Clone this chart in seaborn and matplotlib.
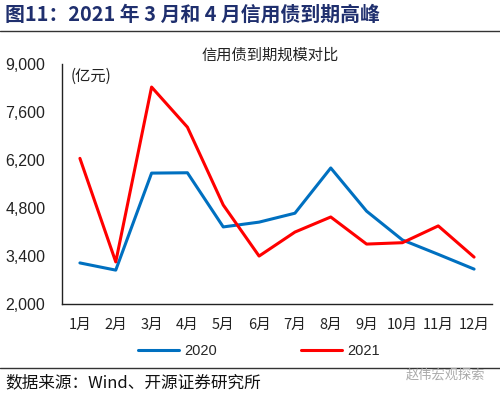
import matplotlib
matplotlib.use("Agg")
import matplotlib.pyplot as plt
import seaborn as sns
import pandas as pd

# Data (亿元)
months = ["1月", "2月", "3月", "4月", "5月", "6月", "7月", "8月", "9月", "10月", "11月", "12月"]
vals_2020 = [3200, 2990, 5820, 5830, 4250, 4390, 4650, 5970, 4710, 3870, 3450, 3020]
vals_2021 = [6250, 3230, 8330, 7160, 4890, 3400, 4100, 4540, 3750, 3790, 4280, 3370]
series_names = ["2020", "2021"]
yticks = [2000, 3400, 4800, 6200, 7600, 9000]

df = pd.DataFrame({
    "month": months * 2,
    "pos": list(range(len(months))) * 2,
    "value": vals_2020 + vals_2021,
    "year": [series_names[0]] * len(months) + [series_names[1]] * len(months),
})

sns.set_style("white")
plt.rcParams["font.family"] = ["Noto Sans CJK SC", "DejaVu Sans"]

fig = plt.figure(figsize=(5, 3.98), dpi=100)
ax = fig.add_axes([0.124, 0.236, 0.86, 0.603])

sns.lineplot(data=df, x="pos", y="value", hue="year",
             palette={"2020": "#0070C0", "2021": "#FF0000"},
             linewidth=2.2, ax=ax, legend=True)

ax.set_xlim(-0.5, len(months) - 0.5)
ax.set_ylim(yticks[0], yticks[-1])
ax.set_yticks(yticks)
ax.set_yticklabels([f"{v:,}" for v in yticks], fontsize=11.5, color="#222222",
                   family=["Liberation Sans", "DejaVu Sans"])
ax.set_xticks(range(len(months)))
ax.set_xticklabels(months, fontsize=10.5, color="#222222")
ax.set_xlabel("")
ax.set_ylabel("")

for s in ["top", "right"]:
    ax.spines[s].set_visible(False)
for s in ["left", "bottom"]:
    ax.spines[s].set_color("#222222")
    ax.spines[s].set_linewidth(1.0)
ax.tick_params(axis="x", direction="out", length=3, width=1, color="#222222", pad=7)
ax.tick_params(axis="y", direction="out", length=4, width=1, color="#222222", pad=8)
ax.grid(False)

ax.text(0.02, 0.985, "(亿元)", transform=ax.transAxes, fontsize=11,
        va="top", ha="left", color="#222222")

# legend below the chart
handles, labels = ax.get_legend_handles_labels()
ax.get_legend().remove()
fig.legend(handles, labels, loc="center", bbox_to_anchor=(0.518, 0.118), ncol=2,
           frameon=False, handlelength=2.8, columnspacing=5.8,
           handletextpad=0.35, prop={"family": ["Liberation Sans", "DejaVu Sans"], "size": 10.5})

# header and footer
fig.text(0.01, 0.965, "图11：2021 年 3 月和 4 月信用债到期高峰", fontsize=14.3,
         fontweight="bold", color="#1F2F6E", va="center", ha="left")
fig.add_artist(plt.Line2D([0, 1], [0.922, 0.922], color="#333333", linewidth=1.0))
fig.text(0.54, 0.862, "信用债到期规模对比", fontsize=11, color="#222222",
         va="center", ha="center")
fig.add_artist(plt.Line2D([0, 1], [0.075, 0.075], color="#333333", linewidth=1.0))
fig.text(0.01, 0.037, "数据来源：Wind、开源证券研究所", fontsize=12, color="#111111",
         va="center", ha="left")
fig.text(0.97, 0.057, "赵伟宏观探索", fontsize=9.5, color="#AAAAAA",
         va="center", ha="right")

fig.savefig("out.png", dpi=100)
